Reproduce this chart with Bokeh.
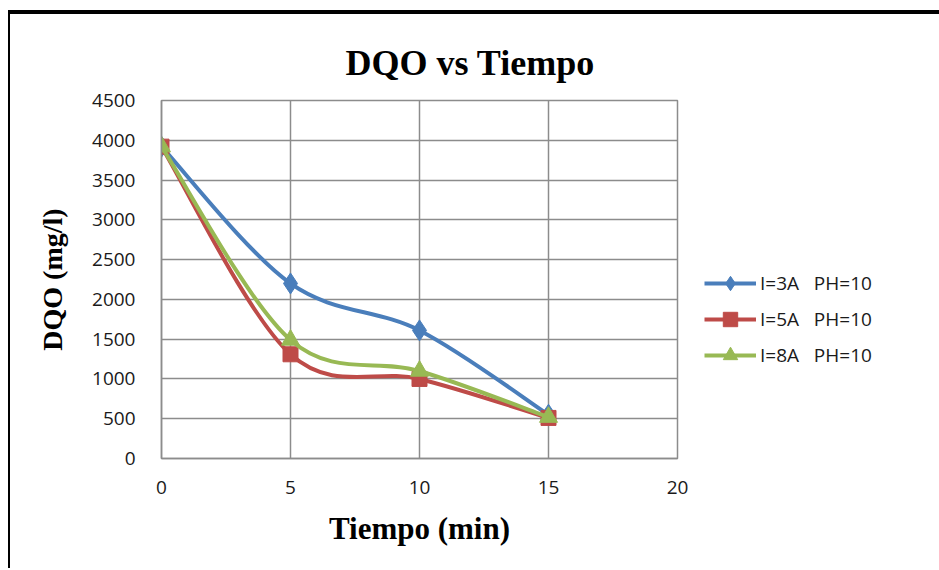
from bokeh.plotting import figure
from bokeh.embed import file_html
from bokeh.resources import INLINE
from bokeh.layouts import column
from bokeh.models import Legend, LegendItem, FixedTicker, Range1d, ColumnDataSource

# ---- data ----
tiempo = [0, 5, 10, 15]
dqo_3A = [3920, 2200, 1610, 550]
dqo_5A = [3920, 1310, 1000, 510]
dqo_8A = [3920, 1490, 1100, 520]
series_names = ["I=3A   PH=10", "I=5A   PH=10", "I=8A   PH=10"]
x_ticks = [0, 5, 10, 15, 20]
y_ticks = [0, 500, 1000, 1500, 2000, 2500, 3000, 3500, 4000, 4500]

colors = ["#4A7EBB", "#BE4B48", "#98B954"]
markers = ["diamond", "square", "triangle"]
msizes = [21, 15, 18]

p = figure(frame_width=516, frame_height=358, output_backend="svg", toolbar_location=None,
           x_range=Range1d(0, 20), y_range=Range1d(0, 4500),
           min_border_left=151, min_border_right=0, min_border_top=86, min_border_bottom=110)
p.background_fill_color = "white"
p.border_fill_color = "white"
p.outline_line_color = "#8C8C8C"
p.outline_line_width = 1.5

p.title.text = "DQO  vs Tiempo"
p.title.text_font = "Liberation Serif"
p.title.text_font_style = "bold"
p.title.text_font_size = "36px"
p.title.text_color = "black"
p.title.align = "left"
p.title.vertical_align = "top"
p.title.offset = 184
p.title.standoff = 32

for ax, ticks in ((p.xaxis, x_ticks), (p.yaxis, y_ticks)):
    ax.ticker = FixedTicker(ticks=ticks)
    ax.major_tick_out = 0
    ax.major_tick_in = 0
    ax.minor_tick_out = 0
    ax.minor_tick_in = 0
    ax.axis_line_color = "#8C8C8C"
    ax.axis_line_width = 1.5
    ax.major_label_text_font = "Open Sans"
    ax.major_label_text_font_size = "19px"
    ax.major_label_text_color = "#1a1a1a"
p.xaxis.major_label_standoff = 22
p.yaxis.major_label_standoff = 26

p.grid.grid_line_color = "#8C8C8C"
p.grid.grid_line_width = 1.5

p.xaxis.axis_label = "Tiempo (min)"
p.yaxis.axis_label = "DQO (mg/l)"
for ax in (p.xaxis, p.yaxis):
    ax.axis_label_text_font = "Liberation Serif"
    ax.axis_label_text_font_style = "bold"
    ax.axis_label_text_color = "black"
p.xaxis.axis_label_text_font_size = "31px"
p.yaxis.axis_label_text_font_size = "28px"
p.xaxis.axis_label_standoff = 14
p.yaxis.axis_label_standoff = 21


def smooth_segments(xs, ys):
    # Bezier control points (Catmull-Rom style smoothing between data points)
    n = len(xs)
    x0, y0, x1, y1, cx0, cy0, cx1, cy1 = [], [], [], [], [], [], [], []
    for i in range(n - 1):
        xa, ya = xs[max(i - 1, 0)], ys[max(i - 1, 0)]
        xb, yb = xs[i], ys[i]
        xc, yc = xs[i + 1], ys[i + 1]
        xd, yd = xs[min(i + 2, n - 1)], ys[min(i + 2, n - 1)]
        x0.append(xb); y0.append(yb); x1.append(xc); y1.append(yc)
        cx0.append(xb + (xc - xa) / 6.0); cy0.append(yb + (yc - ya) / 6.0)
        cx1.append(xc - (xd - xb) / 6.0); cy1.append(yc - (yd - yb) / 6.0)
    return dict(x0=x0, y0=y0, x1=x1, y1=y1, cx0=cx0, cy0=cy0, cx1=cx1, cy1=cy1)


items = []
for ys, name, c, m, s in zip([dqo_3A, dqo_5A, dqo_8A], series_names, colors, markers, msizes):
    src = ColumnDataSource(smooth_segments(tiempo, ys))
    bz = p.bezier(x0="x0", y0="y0", x1="x1", y1="y1", cx0="cx0", cy0="cy0", cx1="cx1", cy1="cy1",
                  source=src, line_color=c, line_width=4)
    sc = p.scatter(tiempo, ys, marker=m, size=s, fill_color=c, line_color=c)
    items.append(LegendItem(label=name, renderers=[bz, sc]))

legend = Legend(items=items, location=(27, 85), orientation="vertical")
legend.label_text_font = "Open Sans"
legend.label_text_font_size = "19px"
legend.label_text_color = "#1a1a1a"
legend.glyph_width = 52
legend.glyph_height = 36
legend.spacing = 0
legend.label_standoff = 4
legend.border_line_color = None
legend.background_fill_alpha = 0
legend.margin = 0
legend.padding = 10
p.add_layout(legend, "right")

lay = column(p, styles={"border-top": "4px solid black", "border-left": "2px solid black",
                        "margin-top": "10px", "margin-left": "8px"})

html = file_html(lay, INLINE)
html = html.replace("</head>", "<style>html,body{margin:0;padding:0;overflow:hidden;}</style></head>", 1)
open("out.html", "w").write(html)
